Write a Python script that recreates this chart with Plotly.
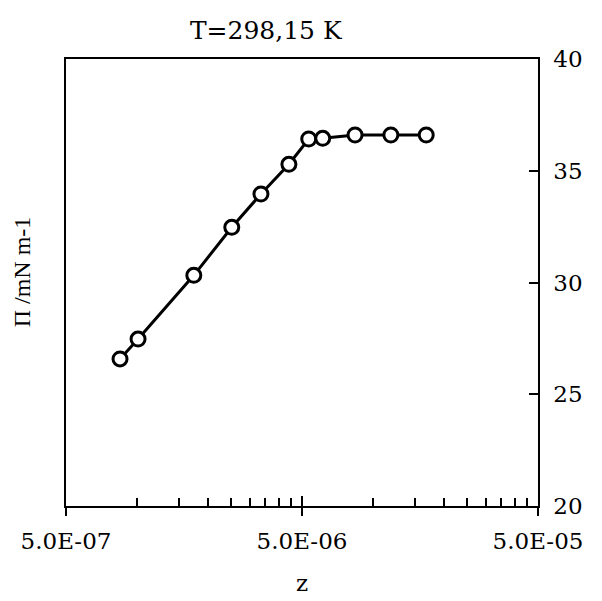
import math
import plotly.graph_objects as go

z = [8.47e-7, 1.01e-6, 1.74e-6, 2.52e-6, 3.35e-6, 4.40e-6, 5.34e-6, 6.12e-6, 8.39e-6, 1.19e-5, 1.68e-5]
pi_vals = [26.58, 27.47, 30.32, 32.47, 33.96, 35.29, 36.42, 36.45, 36.6, 36.6, 36.6]

x_major = [5e-7, 5e-6, 5e-5]
x_major_text = ["5.0E-07", "5.0E-06", "5.0E-05"]
x_minor = [m * k for m in x_major[:-1] for k in range(2, 10)]

FONT = "DejaVu Serif"

fig = go.Figure()
fig.add_trace(go.Scatter(
    x=z, y=pi_vals, mode="lines+markers",
    line=dict(color="black", width=3),
    marker=dict(symbol="circle", size=14, color="white",
                line=dict(color="black", width=3)),
    showlegend=False, cliponaxis=False,
))
fig.add_trace(go.Scatter(x=[x_major[0]], y=[None], xaxis="x2", yaxis="y",
                         showlegend=False, hoverinfo="skip"))

xr = [math.log10(x_major[0]), math.log10(x_major[-1])]
fig.update_layout(
    width=594, height=593,
    margin=dict(l=58, r=64, t=51, b=95, autoexpand=False),
    paper_bgcolor="white", plot_bgcolor="white",
    font=dict(family=FONT, size=23, color="black"),
    title=dict(text="T=298,15 K", x=0.434, xanchor="center", y=0.963, yanchor="middle",
               font=dict(family=FONT, size=25, color="black")),
    xaxis=dict(
        type="log", range=xr, tickmode="array", tickvals=x_major, ticktext=x_major_text,
        ticks="outside", ticklen=8, tickwidth=1.5, tickcolor="black",
        showline=True, linecolor="black", linewidth=1.5, mirror=True,
        showgrid=False, zeroline=False, ticklabelstandoff=6, automargin=False,
        minor=dict(tickmode="array", tickvals=x_minor, ticks="inside", ticklen=8,
                   tickwidth=1.5, tickcolor="black", showgrid=False),
        title=dict(text="z", font=dict(family=FONT, size=23), standoff=22),
        tickfont=dict(family=FONT, size=23),
    ),
    xaxis2=dict(
        type="log", range=xr, overlaying="x", side="bottom", anchor="y",
        tickmode="array", tickvals=x_major, ticks="inside", ticklen=10,
        tickwidth=1.5, tickcolor="black", showticklabels=False,
        showline=False, showgrid=False, zeroline=False, automargin=False,
    ),
    yaxis=dict(
        range=[20, 40], dtick=5, side="right", ticks="inside", ticklen=9,
        tickwidth=1.5, tickcolor="black", showline=True, linecolor="black",
        linewidth=1.5, mirror=True, showgrid=False, zeroline=False, automargin=False,
        ticklabelstandoff=9, tickfont=dict(family=FONT, size=23),
    ),
    annotations=[dict(
        text="Π /mN m-1", textangle=-90, xref="paper", yref="paper",
        x=-0.093, y=0.523, xanchor="center", yanchor="middle", showarrow=False,
        font=dict(family="Liberation Serif", size=24, color="black"),
    )],
)

fig.write_html("out.html")
